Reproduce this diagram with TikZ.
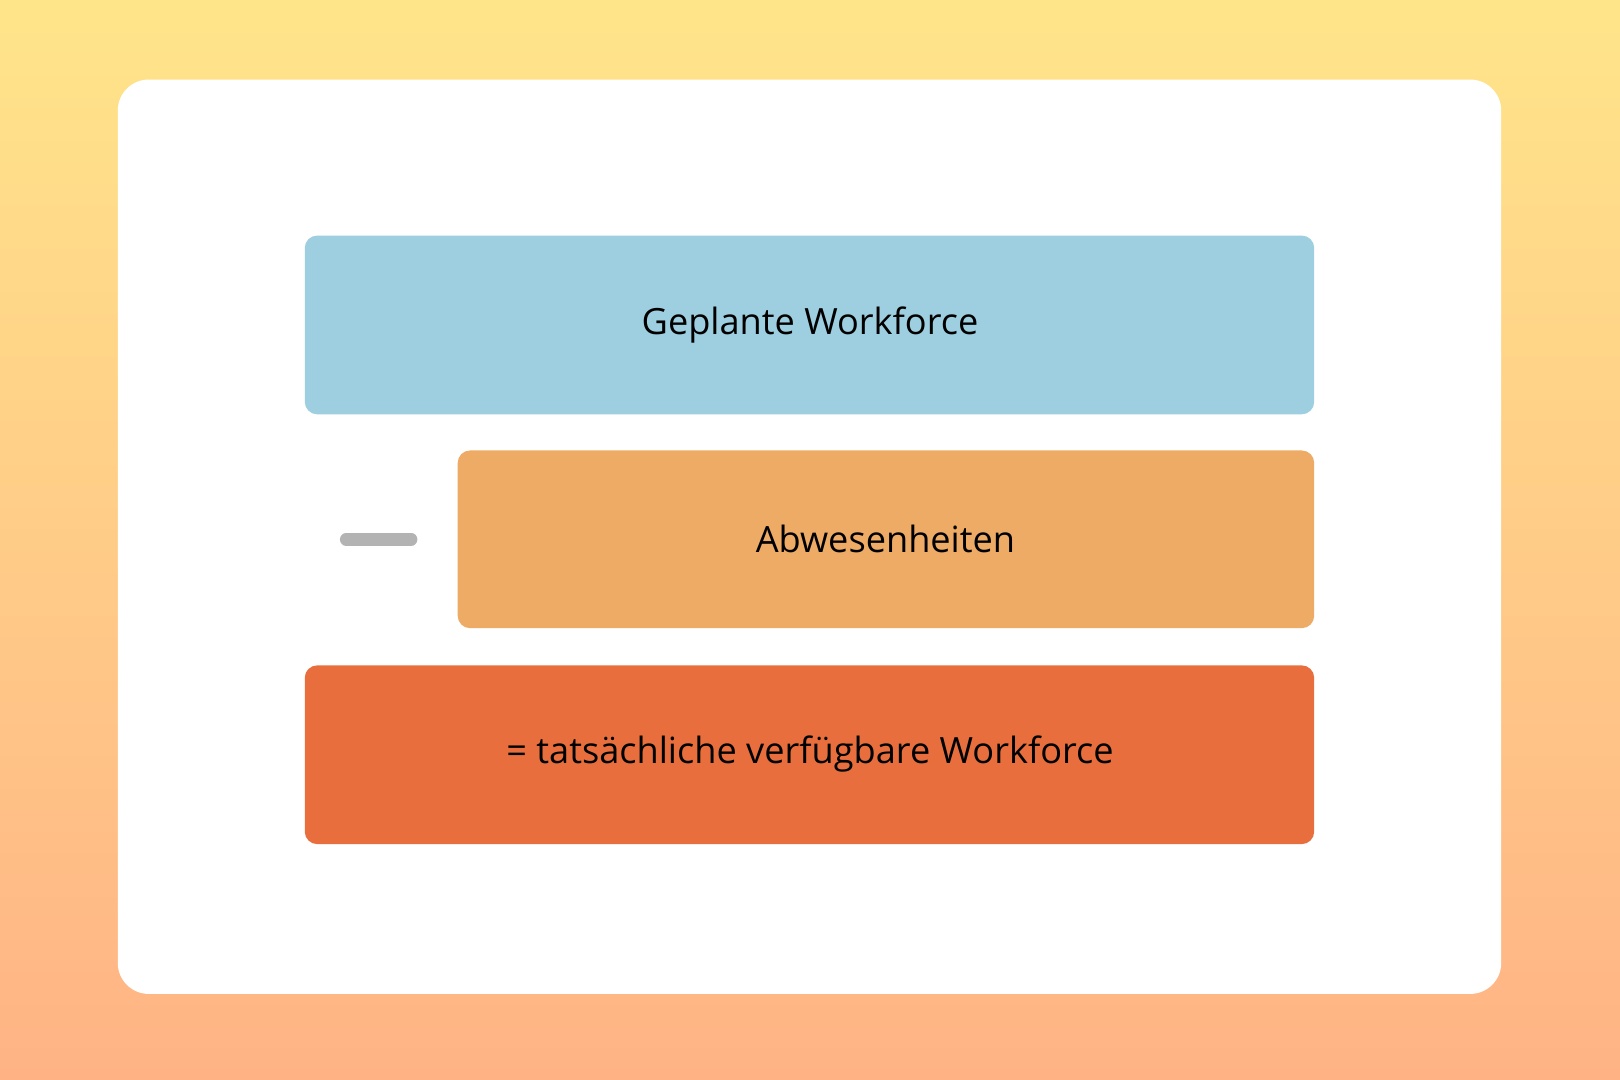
\documentclass[tikz,border=0pt]{standalone}
\usepackage{fontspec}
\setmainfont{Open Sans}
\definecolor{bgtop}{HTML}{FFE58A}
\definecolor{bgbot}{HTML}{FFB385}
\definecolor{cblue}{HTML}{9DCFE0}
\definecolor{corange}{HTML}{EDAB66}
\definecolor{cred}{HTML}{E86F3D}
\definecolor{cgrey}{HTML}{B3B3B3}
\begin{document}
\begin{tikzpicture}[x=1pt,y=-1pt,
  box/.style={rounded corners=12pt,draw=none,font=\fontsize{35}{40}\selectfont,text=black}]
\useasboundingbox (0,0) rectangle (1568,1045);
\shade[top color=bgtop,bottom color=bgbot] (0,0) rectangle (1568,1045);
\fill[white,rounded corners=30pt] (114,77) rectangle (1453,962);
\fill[box,cblue] (295,228) rectangle (1272,401);
\node[box] (plan) at (784,315) {Geplante Workforce};
\fill[box,corange] (443,436) rectangle (1272,608);
\node[box] (abw) at (857,522) {Abwesenheiten};
\fill[box,cred] (295,644) rectangle (1272,817);
\node[box] (res) at (784,730) {= tatsächliche verfügbare Workforce};
\draw[cgrey,line width=12pt,line cap=round] (335,522) coordinate (m1) -- (398,522) coordinate (m2);
\end{tikzpicture}
\end{document}
